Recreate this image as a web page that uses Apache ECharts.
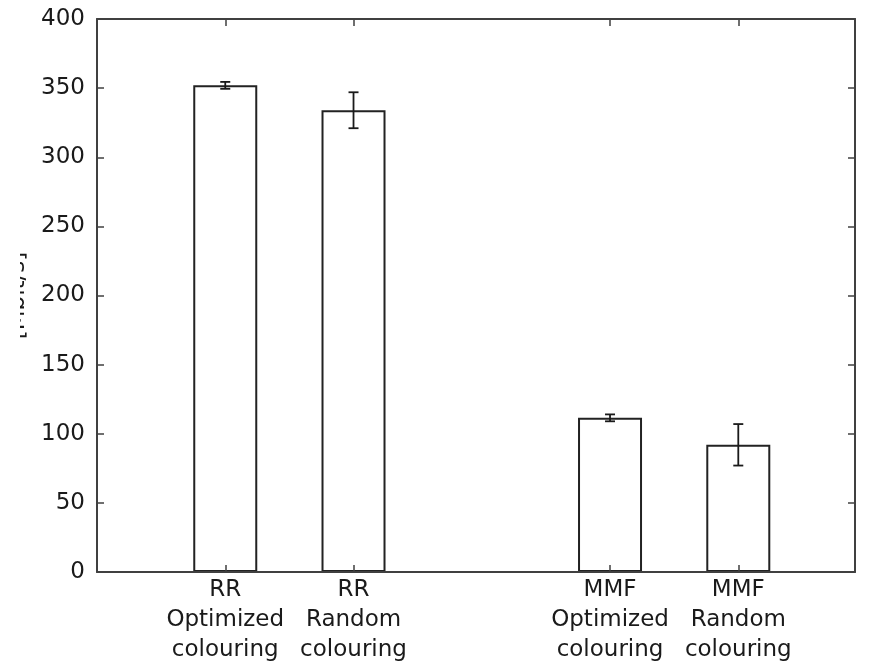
<!DOCTYPE html>
<html><head><meta charset="utf-8">
<script src="https://cdn.jsdelivr.net/npm/echarts@6/dist/echarts.min.js"></script>
<style>html,body{margin:0;padding:0;background:#fff;overflow:hidden}
#c{position:absolute;left:20px;top:0;width:851px;height:663px}</style>
</head><body><div id="c"></div>
<script>
const categories = ['RR\nOptimized\ncolouring','RR\nRandom\ncolouring','MMF\nOptimized\ncolouring','MMF\nRandom\ncolouring'];
const xPositions = [1, 2, 4, 5];
const means = [352, 334, 111.5, 92];
const errors = [2.5, 13, 2.5, 15];
const yTicks = [0, 50, 100, 150, 200, 250, 300, 350, 400];

const font = 'DejaVu Sans';
const lineCol = '#404040';
const tickLen = 7;
const chart = echarts.init(document.getElementById('c'), null, {renderer:'canvas'});
const barData = xPositions.map((x,i)=>[x, means[i]]);
const errData = xPositions.map((x,i)=>[x, means[i]-errors[i], means[i]+errors[i]]);
function xLabel(v){ const i = xPositions.indexOf(v); return i>=0 ? categories[i] : ''; }
chart.setOption({
  animation:false,
  grid:{left:77, right:16, top:19, bottom:91, show:false, containLabel:false, outerBoundsMode:'none'},
  xAxis:[{type:'value', min:0, max:5.91, position:'bottom', z:5,
    axisLine:{show:true, onZero:false, lineStyle:{color:lineCol, width:2}},
    axisTick:{show:true, inside:true, length:tickLen, customValues:xPositions, lineStyle:{color:lineCol, width:1.5}},
    axisLabel:{customValues:xPositions, formatter:xLabel, color:'#1a1a1a', fontFamily:font, fontSize:23, lineHeight:30, margin:3},
    splitLine:{show:false}},
   {type:'value', min:0, max:5.91, position:'top', z:5,
    axisLine:{show:true, onZero:false, lineStyle:{color:lineCol, width:2}},
    axisTick:{show:true, inside:true, length:tickLen, customValues:xPositions, lineStyle:{color:lineCol, width:1.5}},
    axisLabel:{show:false}, splitLine:{show:false}}],
  yAxis:[{type:'value', min:0, max:400, interval:50, position:'left', z:5,
    name:'[Mbit/s]', nameLocation:'middle', nameGap:67, nameRotate:90,
    nameTextStyle:{color:'#1a1a1a', fontFamily:font, fontSize:23},
    axisLine:{show:true, onZero:false, lineStyle:{color:lineCol, width:2}},
    axisTick:{show:true, inside:true, length:tickLen, lineStyle:{color:lineCol, width:1.5}},
    axisLabel:{color:'#1a1a1a', fontFamily:font, fontSize:23, margin:12,
      customValues:yTicks, formatter:v=>String(v)},
    splitLine:{show:false}},
   {type:'value', min:0, max:400, interval:50, position:'right', z:5,
    axisLine:{show:true, onZero:false, lineStyle:{color:lineCol, width:2}},
    axisTick:{show:true, inside:true, length:tickLen, lineStyle:{color:lineCol, width:1.5}},
    axisLabel:{show:false}, splitLine:{show:false}}],
  series:[
    {type:'bar', xAxisIndex:0, yAxisIndex:0, data:barData, barWidth:64,
     itemStyle:{color:'#fff', borderColor:'#222', borderWidth:2}},
    {type:'custom', xAxisIndex:0, yAxisIndex:0, data:errData, z:5,
     renderItem:function(params, api){
       const x = api.value(0);
       const lo = api.coord([x, api.value(1)]);
       const hi = api.coord([x, api.value(2)]);
       const hw = 5;
       const st = {stroke:'#1a1a1a', lineWidth:1.8};
       return {type:'group', children:[
         {type:'line', shape:{x1:lo[0], y1:lo[1], x2:hi[0], y2:hi[1]}, style:st},
         {type:'line', shape:{x1:lo[0]-hw, y1:lo[1], x2:lo[0]+hw, y2:lo[1]}, style:st},
         {type:'line', shape:{x1:hi[0]-hw, y1:hi[1], x2:hi[0]+hw, y2:hi[1]}, style:st}
       ]};
     }}
  ]
});
</script></body></html>
